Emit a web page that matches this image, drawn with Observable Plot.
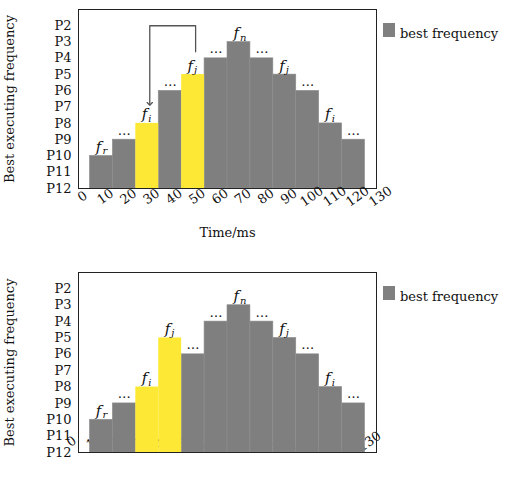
<!DOCTYPE html>
<html>
<head>
<meta charset="utf-8">
<script src="https://cdn.jsdelivr.net/npm/d3@7"></script>
<script src="https://cdn.jsdelivr.net/npm/@observablehq/plot@0.6"></script>
<style>
  body { margin: 0; background: #fff; font-family: "DejaVu Serif", serif; }
  .chart { position: relative; width: 509px; }
  .chart svg { display: block; }
  .swatch { position: absolute; left: 383px; width: 12px; height: 14px; background: #808080; }
  .legend-text { position: absolute; left: 400px; font-size: 13px; line-height: 15px; color: #111; white-space: nowrap; }
</style>
</head>
<body>
<div id="top" class="chart"></div>
<div id="bottom" class="chart"></div>
<script>
// Frequency levels, lowest (bottom of the axis) to highest
const levels = ["P12", "P11", "P10", "P9", "P8", "P7", "P6", "P5", "P4", "P3", "P2"];
// Time slots (ms) and the axis tick labels
const times = [10, 20, 30, 40, 50, 60, 70, 80, 90, 100, 110, 120];
const timeTicks = [0, 10, 20, 30, 40, 50, 60, 70, 80, 90, 100, 110, 120, 130];

// Upper schedule: best frequency per slot, annotations, highlighted slots
const topFreq = ["P10", "P9", "P8", "P6", "P5", "P4", "P3", "P4", "P5", "P6", "P8", "P9"];
const topLabels = ["f_r", "…", "f_i", "…", "f_j", "…", "f_n", "…", "f_j", "…", "f_i", "…"];
const topHighlight = [30, 50];
// Frequency jump shown by the arrow (from slot, to slot, ceiling level)
const jump = { from: 50, to: 30, top: "P2" };

// Lower schedule after the swap
const bottomFreq = ["P10", "P9", "P8", "P5", "P6", "P4", "P3", "P4", "P5", "P6", "P8", "P9"];
const bottomLabels = ["f_r", "…", "f_i", "f_j", "…", "…", "f_n", "…", "f_j", "…", "f_i", "…"];
const bottomHighlight = [30, 40];

const gray = "#7f7f7f";
const yellow = "#fde935";
const slotWidth = 10;
const lv = (p) => levels.indexOf(p);

function chart({ freq, labels, highlight, height, marginTop, marginBottom, tickDx, tickDy, ticksUnderBars, xTitle, arrow }) {
  const bars = times.map((t, i) => ({ t, level: lv(freq[i]), label: labels[i], hi: highlight.includes(t) }));
  const fLabels = bars.filter((d) => d.label.startsWith("f_"));
  const dots = bars.filter((d) => d.label === "…");

  const tickText = Plot.text(timeTicks, {
    x: (d) => d, frameAnchor: "bottom", rotate: -35, dx: tickDx, dy: tickDy,
    textAnchor: "middle", lineAnchor: "middle", fontSize: 13, fill: "#111"
  });

  const marks = [];
  if (ticksUnderBars) marks.push(tickText);
  marks.push(
    Plot.rectY(bars.filter((d) => !d.hi), {
      x1: (d) => d.t - slotWidth / 2, x2: (d) => d.t + slotWidth / 2, y: "level",
      fill: gray, stroke: "#8e8e8e", strokeWidth: 0.6
    }),
    Plot.rectY(bars.filter((d) => d.hi), {
      x1: (d) => d.t - slotWidth / 2, x2: (d) => d.t + slotWidth / 2, y: "level",
      fill: yellow
    }),
    Plot.frame({ stroke: "#222", strokeWidth: 1 }),
    Plot.axisY(d3.range(levels.length), {
      tickSize: 0, tickPadding: 7, tickFormat: (i) => levels[i], fontSize: 13, fill: "#111", label: null
    }),
    Plot.text(["Best executing frequency"], {
      frameAnchor: "left", rotate: -90, dx: -69, textAnchor: "middle", lineAnchor: "middle", fontSize: 13, fill: "#111"
    }),
    // italic f with its subscript above each annotated slot
    Plot.text(fLabels, {
      x: "t", y: "level", text: () => "f", textAnchor: "end", lineAnchor: "bottom",
      dy: -4, fontStyle: "italic", fontSize: 15, fill: "#111"
    }),
    Plot.text(fLabels, {
      x: "t", y: "level", text: (d) => d.label.slice(2), textAnchor: "start", lineAnchor: "bottom",
      dx: 1, dy: -1.5, fontStyle: "italic", fontSize: 10, fill: "#111"
    }),
    Plot.text(dots, {
      x: "t", y: "level", text: () => "…", lineAnchor: "bottom", dy: -5, fontSize: 13, fill: "#111"
    })
  );
  if (!ticksUnderBars) marks.push(tickText);
  if (xTitle) {
    marks.push(Plot.text([xTitle], {
      frameAnchor: "bottom", dy: 44, lineAnchor: "middle", fontSize: 13, fill: "#111"
    }));
  }
  if (arrow) {
    const from = bars.find((d) => d.t === arrow.from);
    const to = bars.find((d) => d.t === arrow.to);
    const path = [
      { t: from.t, lv: from.level + 1.4 },
      { t: from.t, lv: lv(arrow.top) },
      { t: to.t, lv: lv(arrow.top) },
      { t: to.t, lv: to.level + 1.2 }
    ];
    marks.push(Plot.line(path, {
      x: "t", y: "lv", stroke: "#555", strokeWidth: 1.3, dx: 2.5, markerEnd: "arrow"
    }));
  }

  return Plot.plot({
    width: 509,
    height,
    marginLeft: 78,
    marginRight: 133,
    marginTop,
    marginBottom,
    style: { fontFamily: "DejaVu Serif, serif", fontSize: "13px", background: "transparent" },
    x: { type: "linear", domain: [0, 130], axis: null },
    y: { type: "linear", domain: [0, levels.length], axis: null },
    marks
  });
}

function legend(container, top) {
  const sw = document.createElement("div");
  sw.className = "swatch";
  sw.style.top = top + "px";
  const tx = document.createElement("div");
  tx.className = "legend-text";
  tx.style.top = (top + 3) + "px";
  tx.textContent = "best frequency";
  container.append(sw, tx);
}

const topEl = document.getElementById("top");
topEl.append(chart({
  freq: topFreq, labels: topLabels, highlight: topHighlight,
  height: 250, marginTop: 9, marginBottom: 62,
  tickDx: 4, tickDy: 8, ticksUnderBars: false, xTitle: "Time/ms", arrow: jump
}));
legend(topEl, 23);

const bottomEl = document.getElementById("bottom");
bottomEl.append(chart({
  freq: bottomFreq, labels: bottomLabels, highlight: bottomHighlight,
  height: 238, marginTop: 22, marginBottom: 36,
  tickDx: -7, tickDy: -11, ticksUnderBars: true, xTitle: null, arrow: null
}));
legend(bottomEl, 36);
</script>
</body>
</html>
